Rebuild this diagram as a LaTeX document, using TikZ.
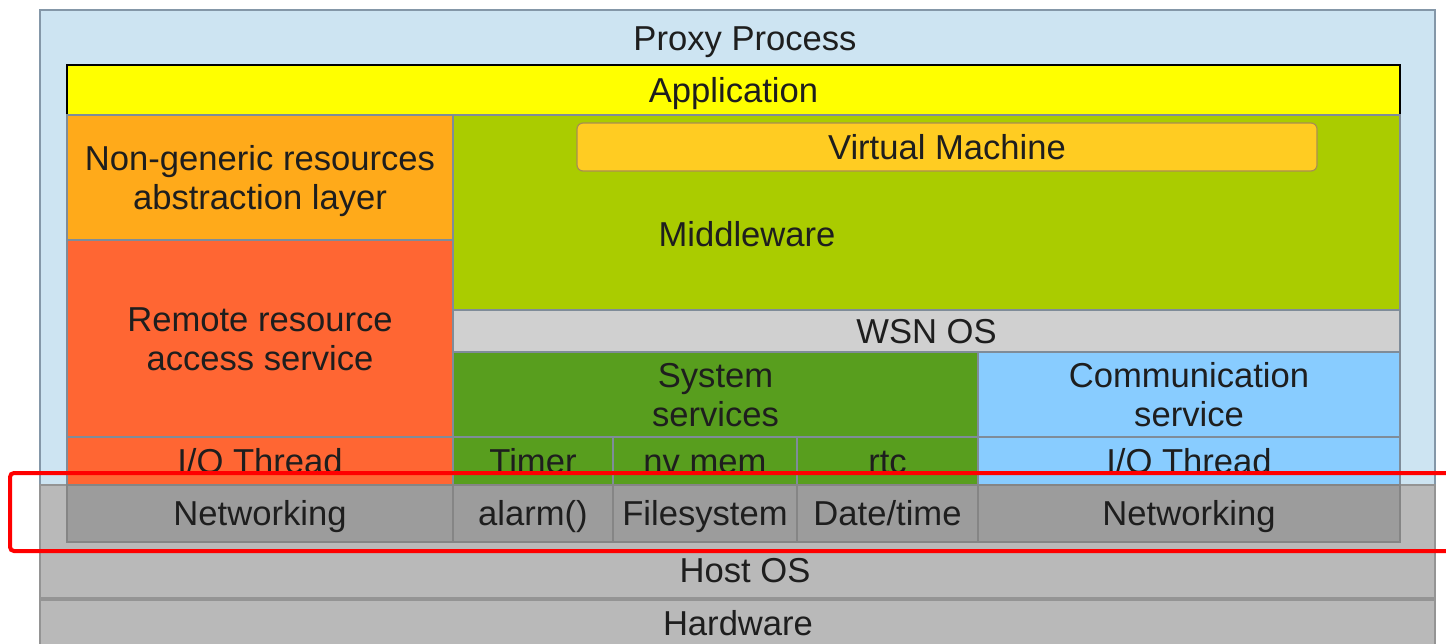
\documentclass[tikz,border=0pt]{standalone}
\usepackage{fontspec}
\setmainfont{Liberation Sans}
\definecolor{proxybg}{HTML}{CDE4F2}
\definecolor{proxyline}{HTML}{8497A8}
\definecolor{appyellow}{HTML}{FFFF00}
\definecolor{nongen}{HTML}{FFAA1A}
\definecolor{remote}{HTML}{FF6633}
\definecolor{midgreen}{HTML}{AACC00}
\definecolor{vmgold}{HTML}{FFCC22}
\definecolor{vmline}{HTML}{A89050}
\definecolor{wsngray}{HTML}{D0D0D0}
\definecolor{sysgreen}{HTML}{589E1E}
\definecolor{commblue}{HTML}{88CCFF}
\definecolor{netgray}{HTML}{9C9C9C}
\definecolor{hostgray}{HTML}{B9B9B9}
\definecolor{cellline}{HTML}{7F8C99}
\definecolor{inkdark}{HTML}{1E1E1E}
\def\pxu{0.5pt}
% block from (x1,y1) to (x2,y2) in pixel units
\newcommand\blk[7]{\node[#6, minimum width={(#4-#2)*\pxu}, minimum height={(#5-#3)*\pxu}] (#1) at ({(#2+#4)/2},{(#3+#5)/2}) {#7};}
\tikzset{
  lbl/.style={inner sep=0pt, align=center, text=inkdark,
    font=\fontsize{17.3}{19.2}\selectfont, text height=12.4pt, text depth=0pt},
  twolines/.style={text height=31.6pt},
  cell/.style={lbl, draw=cellline, line width=0.6pt},
}
\begin{document}
\begin{tikzpicture}[x=\pxu, y=-\pxu]
\useasboundingbox (0,0) rectangle (1446,643);
\clip (0,0) rectangle (1446,643);
% outer process frame
\blk{proxy}{40}{10}{1435}{485}{cell, draw=proxyline, fill=proxybg}{}
\node[lbl] (proxylbl) at (745,38) {Proxy Process};
% host side
\blk{host}{40}{485}{1435}{598}{cell, draw=hostgray!80!black, fill=hostgray}{}
\node[lbl] (hostlbl) at (745,570) {Host OS};
\blk{hw}{40}{600}{1435}{660}{cell, draw=hostgray!80!black, fill=hostgray}{}
\node[lbl] (hwlbl) at (738,623) {Hardware};
% application layer
\blk{app}{67}{65}{1400}{115}{cell, draw=black, line width=1.2pt, fill=appyellow}{Application}
% left column
\blk{nongen}{67}{115}{453}{240}{cell, twolines, fill=nongen}{Non-generic resources\\abstraction layer}
\blk{remote}{67}{240}{453}{437}{cell, twolines, fill=remote}{Remote resource\\access service}
\blk{iol}{67}{437}{453}{485}{cell, fill=remote}{I/O Thread}
% middleware
\blk{mw}{453}{115}{1400}{310}{cell, fill=midgreen}{}
\node[lbl] (mwlbl) at (747,234) {Middleware};
\blk{vm}{577}{123}{1317}{171}{cell, draw=vmline, fill=vmgold, rounded corners=3pt}{Virtual Machine}
\blk{wsn}{453}{310}{1400}{352}{cell, fill=wsngray}{WSN OS}
\blk{sys}{453}{352}{978}{437}{cell, twolines, fill=sysgreen}{System\\services}
\blk{comm}{978}{352}{1400}{437}{cell, twolines, fill=commblue}{Communication\\service}
\blk{timer}{453}{437}{613}{485}{cell, fill=sysgreen}{Timer}
\blk{nvmem}{613}{437}{797}{485}{cell, fill=sysgreen}{nv mem}
\blk{rtc}{797}{437}{978}{485}{cell, fill=sysgreen}{rtc}
\blk{ior}{978}{437}{1400}{485}{cell, fill=commblue}{I/O Thread}
% host services row
\blk{netl}{67}{485}{453}{542}{cell, draw=netgray!85!black, fill=netgray}{Networking}
\blk{alarm}{453}{485}{613}{542}{cell, draw=netgray!85!black, fill=netgray}{alarm()}
\blk{fs}{613}{485}{797}{542}{cell, draw=netgray!85!black, fill=netgray}{Filesystem}
\blk{dt}{797}{485}{978}{542}{cell, draw=netgray!85!black, fill=netgray}{Date/time}
\blk{netr}{978}{485}{1400}{542}{cell, draw=netgray!85!black, fill=netgray}{Networking}
% highlight frame
\blk{hilite}{10}{473}{1470}{551}{draw=red, line width=2pt, rounded corners=2pt, inner sep=0pt}{}
\end{tikzpicture}
\end{document}
